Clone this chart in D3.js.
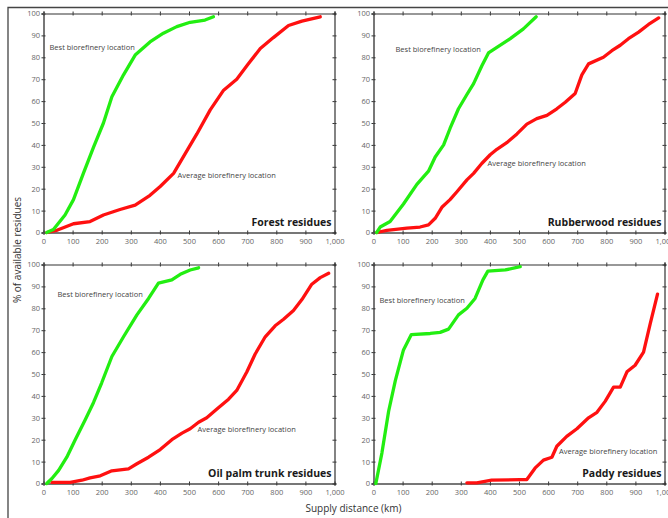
<!DOCTYPE html>
<html><head><meta charset="utf-8">
<script src="https://cdnjs.cloudflare.com/ajax/libs/d3/7.8.5/d3.min.js"></script>
<style>
html,body{margin:0;padding:0;background:#fff;}
svg{display:block;font-family:"Open Sans",sans-serif;}
</style></head>
<body>
<svg id="chart" width="668" height="518"></svg>
<script>
// ---- data ----
const xTicks = [0,100,200,300,400,500,600,700,800,900,1000];
const yTicks = [0,10,20,30,40,50,60,70,80,90,100];
const panelTitles = ["Forest residues","Rubberwood residues","Oil palm trunk residues","Paddy residues"];
const bestLabel = "Best biorefinery location";
const avgLabel = "Average biorefinery location";

const forestBestX = [11,34,74,103,137,172,206,235,275,315,366,412,458,504,555,584];
const forestBestY = [0,1.4,8,15,27,39,50,62,72,81,87,91,94,96,97,98.5];
const forestAvgX = [11,46,103,160,206,263,315,366,401,447,487,527,573,619,664,704,745,790,842,888,951];
const forestAvgY = [0,1,4,5,8,10.5,12.5,17,21,27,36,45,56,65,70,77,84,89,94.5,96.5,98.5];

const rubberBestX = [11,23,57,103,149,189,212,241,263,292,321,344,372,395,424,470,515,559];
const rubberBestY = [0,2.5,5,13,22,28,34.5,40,47.5,56.5,63,68,76,82,84.5,88.5,93,98.5];
const rubberAvgX = [11,46,115,160,189,212,235,263,286,321,344,372,401,424,458,493,527,561,596,630,659,693,716,739,790,819,848,876,911,945,980];
const rubberAvgY = [0,1,2,2.5,3.5,6.5,11.5,15,18.5,24,27,31.5,35.5,38,41,45,49.5,52,53.5,56.5,59.5,63.5,72,77,80,83,85.5,88.5,91.5,95,98];

const palmBestX = [11,29,52,80,109,143,172,200,235,275,321,361,395,441,470,504,533];
const palmBestY = [0,2.3,6,12,20,29,37,46,58,67,77,84.5,91.5,93,95.5,97.5,98.5];
const palmAvgX = [29,92,132,160,195,235,292,321,361,401,441,476,504,533,561,596,636,664,699,727,762,796,825,859,888,922,951,980];
const palmAvgY = [0.5,0.5,1.5,2.6,3.5,5.8,6.7,9,12,15.5,20,23,25,28,30,34,38.5,42.5,51,59,67,72,75,79,84,91,94,96];

const paddyBestX = [8,29,52,75,103,130,195,229,258,292,321,349,376,393,453,504];
const paddyBestY = [0,14,33,47,61,68,68.5,69,70.5,77,80,84.5,93,97,97.5,99];
const paddyAvgX = [321,355,406,504,527,555,584,613,630,664,699,739,768,796,825,848,871,899,928,951,976];
const paddyAvgY = [0.3,0.3,1.5,1.8,1.8,7,10.7,12,17,21.5,25,30,32.5,37.5,44,44,51,54,60,73,86.5];

const panels = [
  {title:panelTitles[0], bx:forestBestX, by:forestBestY, ax:forestAvgX, ay:forestAvgY,
   left:43.5, top:13.5, bestPos:[49.5,50], avgPos:[177.5,178]},
  {title:panelTitles[1], bx:rubberBestX, by:rubberBestY, ax:rubberAvgX, ay:rubberAvgY,
   left:373.5, top:13.5, bestPos:[395.5,52], avgPos:[487.5,166]},
  {title:panelTitles[2], bx:palmBestX, by:palmBestY, ax:palmAvgX, ay:palmAvgY,
   left:43.5, top:264.5, bestPos:[57.5,296.5], avgPos:[197.5,431.5]},
  {title:panelTitles[3], bx:paddyBestX, by:paddyBestY, ax:paddyAvgX, ay:paddyAvgY,
   left:373.5, top:264.5, bestPos:[379.5,303], avgPos:[559,454]}
];

const W = 291, H = 219;
const svg = d3.select("#chart");

// outer frame
svg.append("path").attr("d","M8,520 L8,7.5 L670,7.5")
  .attr("fill","none").attr("stroke","#444").attr("stroke-width",1.3);

panels.forEach(p => {
  const g = svg.append("g").attr("transform",`translate(${p.left},${p.top})`);
  const x = d3.scaleLinear().domain([0,1000]).range([0,W]);
  const y = d3.scaleLinear().domain([0,100]).range([H,0]);

  // axes
  const fmt = d3.format(",");
  const xb = g.append("g").attr("transform",`translate(0,${H})`)
    .call(d3.axisBottom(x).tickValues(xTicks).tickFormat(fmt).tickSize(2).tickPadding(4));
  const xt = g.append("g")
    .call(d3.axisTop(x).tickValues(xTicks).tickFormat("").tickSize(2));
  const yl = g.append("g")
    .call(d3.axisLeft(y).tickValues(yTicks).tickSize(2).tickPadding(1.5));
  const yr = g.append("g").attr("transform",`translate(${W},0)`)
    .call(d3.axisRight(y).tickValues(yTicks).tickFormat("").tickSize(2));
  // inner tick halves
  g.append("g").attr("transform",`translate(0,${H})`).call(d3.axisTop(x).tickValues(xTicks).tickFormat("").tickSize(2)).select(".domain").remove();
  g.append("g").call(d3.axisBottom(x).tickValues(xTicks).tickFormat("").tickSize(2)).select(".domain").remove();
  g.append("g").call(d3.axisRight(y).tickValues(yTicks).tickFormat("").tickSize(2)).select(".domain").remove();
  g.append("g").attr("transform",`translate(${W},0)`).call(d3.axisLeft(y).tickValues(yTicks).tickFormat("").tickSize(2)).select(".domain").remove();

  g.selectAll(".tick line").attr("stroke","#333").attr("stroke-width",1);
  [xb,yl].forEach(a => a.select(".domain").attr("stroke","#777").attr("stroke-width",2));
  [xt,yr].forEach(a => a.select(".domain").attr("stroke","#333").attr("stroke-width",1.2));
  g.selectAll(".tick text").attr("fill","#666").attr("font-size","7.5px").attr("font-family","Open Sans, sans-serif");

  // lines
  const line = d3.line().x(d => x(d[0])).y(d => y(d[1]));
  const avg = p.ax.map((v,i) => [v, p.ay[i]]);
  const best = p.bx.map((v,i) => [v, p.by[i]]);
  g.append("path").datum(avg).attr("d",line).attr("fill","none")
    .attr("stroke","#ff1010").attr("stroke-width",3.3).attr("stroke-linejoin","round").attr("stroke-linecap","round");
  g.append("path").datum(best).attr("d",line).attr("fill","none")
    .attr("stroke","#22ee11").attr("stroke-width",3.3).attr("stroke-linejoin","round").attr("stroke-linecap","round");

  // panel title
  g.append("text").attr("x",W-3).attr("y",H-6.5).attr("text-anchor","end")
    .attr("font-size","10.5px").attr("font-weight","bold").attr("fill","#1a1a1a").text(p.title);

  // annotations
  svg.append("text").attr("x",p.bestPos[0]).attr("y",p.bestPos[1])
    .attr("font-size","7.5px").attr("fill","#444").text(bestLabel);
  svg.append("text").attr("x",p.avgPos[0]).attr("y",p.avgPos[1])
    .attr("font-size","7.5px").attr("fill","#444").text(avgLabel);
});

// axis titles
svg.append("text").attr("transform","translate(21,250) rotate(-90)").attr("text-anchor","middle")
  .attr("font-size","10px").attr("fill","#333").text("% of available residues");
svg.append("text").attr("x",353.5).attr("y",512).attr("text-anchor","middle")
  .attr("font-size","10px").attr("fill","#333").text("Supply distance (km)");
</script>
</body></html>
